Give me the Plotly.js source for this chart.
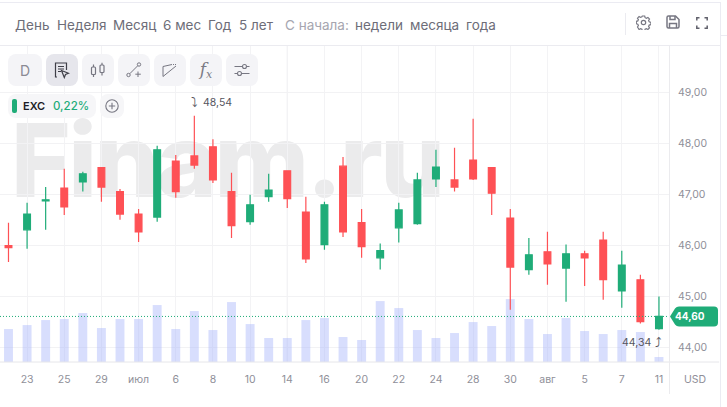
<!DOCTYPE html>
<html><head><meta charset="utf-8">
<script src="https://cdn.plot.ly/plotly-3.0.1.min.js"></script>
<style>
html,body{margin:0;padding:0;background:#fff;width:727px;height:407px;overflow:hidden;font-family:Inter,sans-serif}
.abs{position:absolute}
#wm{position:absolute;left:11px;top:121px;font:800 102px/78px Inter,sans-serif;color:#ebebec;white-space:nowrap;letter-spacing:-2.500px;z-index:0}
#chart{position:absolute;left:0;top:0;width:727px;height:407px;z-index:1}
.t{position:absolute;top:16px;font-size:13.5px;line-height:18px;color:#6d6d78;white-space:nowrap;z-index:3}
.t.l{color:#a6a6b0}
.btn{position:absolute;top:54px;width:32px;height:32px;border-radius:8px;background:#f4f4f7;z-index:3;display:flex;align-items:center;justify-content:center;color:#8a8a94;font-size:14px}
.btn svg,.ic svg{display:block}
.ic{position:absolute;z-index:3}
</style></head><body>
<div id="wm">Finam.ru</div>
<div id="chart"></div>
<div class="abs" style="left:0;top:2px;width:721px;height:1px;background:#ebebf2;z-index:2"></div>
<div class="abs" style="left:0;top:45px;width:721px;height:1px;background:#ebebf0;z-index:2"></div>
<div class="abs" style="left:720px;top:2px;width:1px;height:405px;background:#ebebf2;z-index:2"></div>
<div class="abs" style="left:721px;top:35px;width:6px;height:1px;background:#ebebf2;z-index:2"></div>
<div class="abs" style="left:669px;top:46px;width:1px;height:348px;background:#ebebee;z-index:2"></div>
<div class="abs" style="left:625px;top:13px;width:1px;height:22px;background:#ebebf0;z-index:2"></div>

<div class="t" style="left:15px">День</div><div class="t" style="left:57px">Неделя</div>
<div class="t" style="left:113px">Месяц</div><div class="t" style="left:163px">6 мес</div>
<div class="t" style="left:208px">Год</div><div class="t" style="left:239px">5 лет</div>
<div class="t l" style="left:285px">С начала:</div><div class="t" style="left:355px">недели</div>
<div class="t" style="left:410px">месяца</div><div class="t" style="left:466px">года</div>

<div class="ic" style="left:636px;top:15px"><svg width="15" height="15" viewBox="0 0 15 15" fill="none" stroke="#777782" stroke-width="1.2"><path d="M6.3 1h2.4l.4 1.7 1.3.6 1.5-.9 1.6 1.7-.9 1.4.6 1.3 1.7.5v2.3l-1.7.5-.6 1.3.9 1.5-1.6 1.6-1.5-.9-1.3.6-.4 1.7H6.3l-.4-1.7-1.3-.6-1.5.9L1.500 12l.9-1.500-.6-1.300L.3 8.700V6.400l1.500-.5.6-1.300-.9-1.400L3.100 1.500l1.500.9 1.300-.6z"/><circle cx="7.500" cy="7.500" r="2.200"/></svg></div>
<div class="ic" style="left:666px;top:15px"><svg width="14" height="14" viewBox="0 0 14 14" fill="none" stroke="#777782" stroke-width="1.500"><path d="M2.500 1h7l3.500 3.500v7a1.500 1.500 0 0 1-1.500 1.500h-9A1.500 1.500 0 0 1 1 11.500v-9A1.500 1.500 0 0 1 2.500 1z"/><path d="M4 1v3.500h5V1M3.500 13V8.500h7V13"/></svg></div>
<div class="ic" style="left:696px;top:17px"><svg width="12" height="12" viewBox="0 0 12 12" fill="none" stroke="#60606b" stroke-width="1.500"><path d="M.8 3.500V.8h2.700M8.500.8h2.700v2.700M11.200 8.500v2.700H8.500M3.500 11.200H.8V8.500"/></svg></div>

<div class="btn" style="left:8px;width:34px">D</div>
<div class="btn" style="left:46px;background:#e6e6ec"><svg width="16" height="17" viewBox="0 0 16 17" fill="none" stroke="#3f3f48" stroke-width="1.200"><path d="M3 15H1.500V1h11v7M4 4.500h6M4 7h6M4 9.500h3"/><path d="M7.500 8.500l7 2.800-3 1.200-1.200 3z"/></svg></div>
<div class="btn" style="left:82px"><svg width="16" height="16" viewBox="0 0 16 16" fill="none" stroke="#777782" stroke-width="1.200"><rect x="1.500" y="5" width="4" height="7.500" rx="1"/><rect x="10" y="3" width="4" height="7.500" rx="1"/><path d="M3.500 2.500V5M3.500 12.500V15M12 .8V3M12 10.500v3"/></svg></div>
<div class="btn" style="left:118px"><svg width="16" height="16" viewBox="0 0 16 16" fill="none" stroke="#777782" stroke-width="1"><circle cx="2.500" cy="13" r="1.700"/><circle cx="13" cy="2.500" r="1.700"/><path d="M3.700 11.800l8-8M12 9.500v5.500M9.300 12.200h5.500"/></svg></div>
<div class="btn" style="left:154px"><svg width="16" height="14" viewBox="0 0 16 14" fill="none" stroke="#777782" stroke-width="1"><path d="M1 3.500v10l13-10.500" /><path d="M1 3.500l9-2" /><path d="M11 1.500h3" stroke-dasharray="1 1"/></svg></div>
<div class="btn" style="left:190px;font:italic 400 17px 'DejaVu Serif',serif;color:#7a7a85"><span>f<span style="font-size:11px;font-weight:400;vertical-align:-3px">x</span></span></div>
<div class="btn" style="left:226px"><svg width="16" height="14" viewBox="0 0 16 14" fill="none" stroke="#777782" stroke-width="1.100"><path d="M.5 3.500h8M12.500 3.500h3M.5 10.500h3M7.500 10.500h8"/><circle cx="10.500" cy="3.500" r="2"/><circle cx="5.500" cy="10.500" r="2"/></svg></div>

<div class="abs" style="left:8px;top:94px;width:88px;height:24px;border-radius:8px;background:#f6f6f8;z-index:3"></div>
<div class="abs" style="left:12px;top:99px;width:5px;height:14px;border-radius:2px;background:#1fac78;z-index:3"></div>
<div class="abs" style="left:23px;top:97px;font:600 11px/18px Inter,sans-serif;color:#1d1d26;z-index:3">EXC</div>
<div class="abs" style="left:53px;top:97px;font:500 11.500px/18px Inter,sans-serif;color:#1fac78;z-index:3">0,22%</div>
<div class="abs" style="left:100px;top:94px;width:24px;height:24px;border-radius:8px;background:#f6f6f8;z-index:3"></div>
<div class="ic" style="left:105px;top:99px"><svg width="14" height="14" viewBox="0 0 14 14" fill="none" stroke="#777782" stroke-width="1.100"><circle cx="7" cy="7" r="6.200"/><path d="M7 3.800v6.400M3.800 7h6.400"/></svg></div>

<script>
var sessions = [0,1,2,3,4,5,6,7,8,9,10,11,12,13,14,15,16,17,18,19,20,21,22,23,24,25,26,27,28,29,30,31,32,33,34,35];
var opens  = [45.99,46.30,46.87,47.12,47.24,47.52,47.05,46.61,46.55,47.65,47.75,47.93,47.05,46.46,46.95,47.46,46.65,46.01,47.55,46.44,45.75,46.34,46.42,47.30,47.28,47.67,47.52,46.53,45.52,45.87,45.55,45.83,46.10,45.10,45.32,44.36];
var highs  = [46.44,46.83,47.14,47.50,47.44,47.52,47.10,46.71,47.95,47.77,48.54,48.08,47.42,46.99,47.40,47.46,46.95,46.85,47.73,46.71,46.03,46.83,47.42,47.87,47.91,48.48,47.52,46.71,46.14,46.26,46.01,45.89,46.26,45.89,45.42,44.99];
var lows   = [45.67,45.93,46.30,46.59,47.05,46.85,46.50,46.06,46.46,46.93,47.50,47.22,46.14,46.40,46.85,46.73,45.65,45.91,46.16,45.75,45.52,46.05,46.40,47.14,47.05,47.28,46.59,44.73,45.42,45.22,44.89,45.20,44.93,44.77,44.46,44.34];
var closes = [45.95,46.61,46.89,46.75,47.40,47.14,46.61,46.26,47.87,47.05,47.57,47.28,46.38,46.79,47.08,46.91,45.73,46.79,46.26,45.97,45.89,46.69,47.28,47.53,47.14,47.30,47.02,45.57,45.81,45.63,45.83,45.75,45.32,45.61,44.50,44.60];
var volumes = [3.3,3.7,4.2,4.3,4.9,3.4,4.3,4.3,5.7,3.3,5.1,3.2,6.0,3.8,2.4,2.4,4.2,4.4,2.5,2.2,6.1,5.4,3.2,2.4,2.9,4.0,3.6,6.3,4.3,2.8,4.4,3.1,2.8,3.2,3.0,0.5];
var tickVals = [1,3,5,7,9,11,13,15,17,19,21,23,25,27,29,31,33,35];
var tickLabels = ["23","25","29","июл","6","8","10","14","16","20","22","24","28","30","авг","5","7","11"];
var priceTicks = [44,45,46,47,48,49];
var lastPrice = 44.60, maxPrice = 48.54, minPrice = 44.34;
var monthStarts = [7,15];

var GREEN='#1fac78', RED='#fe5155', TICK='#8f8f99';
var traces=[
 {type:'bar',x:sessions,y:volumes,width:0.48,marker:{color:'rgba(170,184,250,0.46)',line:{width:0}},yaxis:'y',hoverinfo:'skip'},
 {type:'candlestick',x:sessions,open:opens,high:highs,low:lows,close:closes,yaxis:'y2',hoverinfo:'skip',whiskerwidth:0,
  increasing:{line:{color:GREEN,width:1.2},fillcolor:GREEN},decreasing:{line:{color:RED,width:1.2},fillcolor:RED}}
];
var shapes=[
 {type:'line',xref:'paper',x0:0,x1:1,yref:'y2',y0:lastPrice,y1:lastPrice,line:{color:GREEN,width:1,dash:'1px,2px'},layer:'above'},
 {type:'path',xref:'paper',yref:'y2',xsizemode:'pixel',ysizemode:'pixel',xanchor:1,yanchor:lastPrice,
  path:'M 1 0 L 6 -8 Q 7.500 -10 10 -10 L 45 -10 Q 49 -10 49 -6 L 49 6 Q 49 10 45 10 L 10 10 Q 7.500 10 6 8 Z',fillcolor:GREEN,line:{width:0},layer:'above'}
];
monthStarts.forEach(function(m){shapes.push({type:'line',x0:m,x1:m,xref:'x',yref:'paper',y0:0,y1:1,line:{color:'#e9e9ed',width:1},layer:'below'});});
var annFont={family:'Inter, sans-serif',size:10.500,color:'#55555e'};
var annotations=[
 {xref:'paper',yref:'y2',x:1,y:lastPrice,xanchor:'center',xshift:21,showarrow:false,text:'<b>44,60</b>',font:{family:'Inter, sans-serif',size:10,color:'#fff'}},
 {xref:'x',yref:'y2',x:10,y:maxPrice,xanchor:'left',yanchor:'middle',xshift:8,yshift:13,showarrow:false,borderpad:0,text:'48,54',font:annFont},
 {xref:'x',yref:'y2',x:10,y:maxPrice,xanchor:'right',yanchor:'middle',xshift:5,yshift:13,showarrow:false,borderpad:0,text:'⤵',font:{family:'DejaVu Sans',size:13,color:'#55555e'}},
 {xref:'x',yref:'y2',x:35,y:minPrice,xanchor:'right',yanchor:'middle',xshift:-7,yshift:-13,showarrow:false,borderpad:0,text:'44,34',font:annFont},
 {xref:'x',yref:'y2',x:35,y:minPrice,xanchor:'left',yanchor:'middle',xshift:-5,yshift:-13,showarrow:false,borderpad:0,text:'⤴',font:{family:'DejaVu Sans',size:13,color:'#55555e'}},
 {xref:'paper',yref:'paper',x:1,y:0,xanchor:'center',yanchor:'top',xshift:26,yshift:-9,showarrow:false,text:'USD',font:{family:'Inter, sans-serif',size:10.500,color:TICK}}
];
var layout={
 width:727,height:407,margin:{l:0,r:57.5,t:46,b:44.7,pad:0},paper_bgcolor:'rgba(0,0,0,0)',plot_bgcolor:'rgba(0,0,0,0)',
 showlegend:false,separators:', ',boxgap:0.48,barmode:'overlay',
 xaxis:{type:'linear',range:[-0.457,35.54],tickmode:'array',tickvals:tickVals,ticktext:tickLabels,rangeslider:{visible:false},
  showgrid:true,gridcolor:'#f3f3f5',gridwidth:1,zeroline:false,showline:false,ticks:'',
  tickfont:{family:'Inter, sans-serif',size:10.500,color:TICK},ticklabelstandoff:9},
 yaxis:{range:[0,31.63],visible:false,showgrid:false,zeroline:false},
 yaxis2:{overlaying:'y',side:'right',anchor:'x',range:[43.706,49.908],tickmode:'array',tickvals:priceTicks,tickformat:'.2f',
  showgrid:true,gridcolor:'#f2f2f4',gridwidth:1,zeroline:false,showline:false,ticks:'',
  tickfont:{family:'Inter, sans-serif',size:10.500,color:TICK},ticklabelstandoff:8,automargin:false},
 shapes:shapes,annotations:annotations,
 hovermode:false,dragmode:false
};
shapes.push({type:'line',xref:'paper',yref:'paper',x0:0,x1:1.075,y0:0,y1:0,line:{color:'#e6e6ea',width:1},layer:'above'});
Plotly.newPlot('chart',traces,layout,{displayModeBar:false,staticPlot:true});
</script>
</body></html>
